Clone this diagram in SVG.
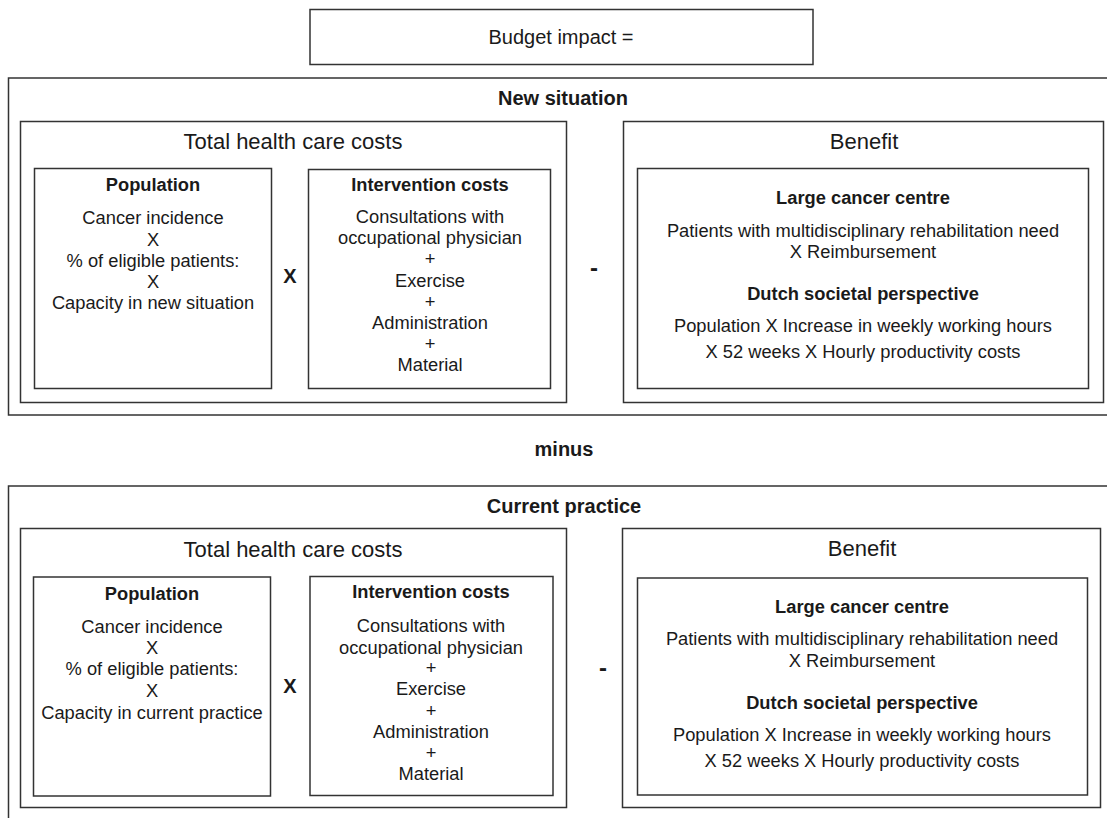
<svg xmlns="http://www.w3.org/2000/svg" width="1107" height="818" viewBox="0 0 1107 818">
<style>
rect{fill:none;stroke:#333;stroke-width:1.5}
text{font-family:"Liberation Sans",Arial,sans-serif;fill:#1a1a1a;text-anchor:middle}
.t{font-size:18.3px}
.h{font-size:18.3px;font-weight:bold}
.big{font-size:22px}
.b20{font-size:20px;font-weight:bold}
.n20{font-size:20px}
.m{font-size:24px;font-weight:bold}
</style>
<rect x="0" y="0" width="1107" height="818" style="fill:#fff;stroke:none"/>
<g id="budget-impact">
<rect x="310" y="9.5" width="503" height="55"/>
<text class="n20" x="561" y="44">Budget impact =</text>
</g>
<g id="new-situation">
<rect x="8.5" y="78" width="1110" height="337"/>
<text class="b20" x="563" y="105">New situation</text>
</g>
<g id="new-thc">
<rect x="20.5" y="121.5" width="546" height="281"/>
<text class="big" x="293" y="149">Total health care costs</text>
</g>
<g id="new-population">
<rect x="34.5" y="168.5" width="237" height="220"/>
<text class="h" x="153" y="191">Population</text>
<text class="t" x="153" y="224">Cancer incidence</text>
<text class="t" x="153" y="246">X</text>
<text class="t" x="153" y="267">% of eligible patients:</text>
<text class="t" x="153" y="288">X</text>
<text class="t" x="153" y="309">Capacity in new situation</text>
</g>
<g id="new-times">
<text class="b20" x="290" y="283">X</text>
</g>
<g id="new-intervention">
<rect x="308.5" y="169.5" width="242" height="219"/>
<text class="h" x="430" y="191">Intervention costs</text>
<text class="t" x="430" y="223">Consultations with</text>
<text class="t" x="430" y="244">occupational physician</text>
<text class="t" x="430" y="265">+</text>
<text class="t" x="430" y="287">Exercise</text>
<text class="t" x="430" y="308">+</text>
<text class="t" x="430" y="329">Administration</text>
<text class="t" x="430" y="350">+</text>
<text class="t" x="430" y="371">Material</text>
</g>
<g id="new-minus">
<text class="m" x="594" y="276">-</text>
</g>
<g id="new-benefit">
<rect x="623.5" y="121.5" width="480" height="281"/>
<text class="big" x="864" y="149">Benefit</text>
<rect x="637.5" y="168.5" width="451" height="220"/>
<text class="h" x="863" y="204">Large cancer centre</text>
<text class="t" x="863" y="237">Patients with multidisciplinary rehabilitation need</text>
<text class="t" x="863" y="258">X Reimbursement</text>
<text class="h" x="863" y="300">Dutch societal perspective</text>
<text class="t" x="863" y="332">Population X Increase in weekly working hours</text>
<text class="t" x="863" y="358">X 52 weeks X Hourly productivity costs</text>
</g>
<g id="minus-label">
<text class="b20" x="564" y="456">minus</text>
</g>
<g id="current-practice">
<rect x="8.5" y="486" width="1110" height="350"/>
<text class="b20" x="564" y="513">Current practice</text>
</g>
<g id="cur-thc">
<rect x="20.5" y="528.5" width="546" height="279"/>
<text class="big" x="293" y="557">Total health care costs</text>
</g>
<g id="cur-population">
<rect x="33.5" y="577" width="237" height="219"/>
<text class="h" x="152" y="600">Population</text>
<text class="t" x="152" y="633">Cancer incidence</text>
<text class="t" x="152" y="654">X</text>
<text class="t" x="152" y="675">% of eligible patients:</text>
<text class="t" x="152" y="697">X</text>
<text class="t" x="152" y="719">Capacity in current practice</text>
</g>
<g id="cur-times">
<text class="b20" x="290" y="693">X</text>
</g>
<g id="cur-intervention">
<rect x="310" y="576.5" width="243" height="219"/>
<text class="h" x="431" y="598">Intervention costs</text>
<text class="t" x="431" y="632">Consultations with</text>
<text class="t" x="431" y="654">occupational physician</text>
<text class="t" x="431" y="674">+</text>
<text class="t" x="431" y="695">Exercise</text>
<text class="t" x="431" y="717">+</text>
<text class="t" x="431" y="738">Administration</text>
<text class="t" x="431" y="759">+</text>
<text class="t" x="431" y="780">Material</text>
</g>
<g id="cur-minus">
<text class="m" x="603" y="676">-</text>
</g>
<g id="cur-benefit">
<rect x="622.5" y="528.5" width="478" height="279"/>
<text class="big" x="862" y="556">Benefit</text>
<rect x="637.5" y="578" width="450" height="217"/>
<text class="h" x="862" y="613">Large cancer centre</text>
<text class="t" x="862" y="645">Patients with multidisciplinary rehabilitation need</text>
<text class="t" x="862" y="667">X Reimbursement</text>
<text class="h" x="862" y="709">Dutch societal perspective</text>
<text class="t" x="862" y="741">Population X Increase in weekly working hours</text>
<text class="t" x="862" y="767">X 52 weeks X Hourly productivity costs</text>
</g>
<g id="connectors"></g>
</svg>
